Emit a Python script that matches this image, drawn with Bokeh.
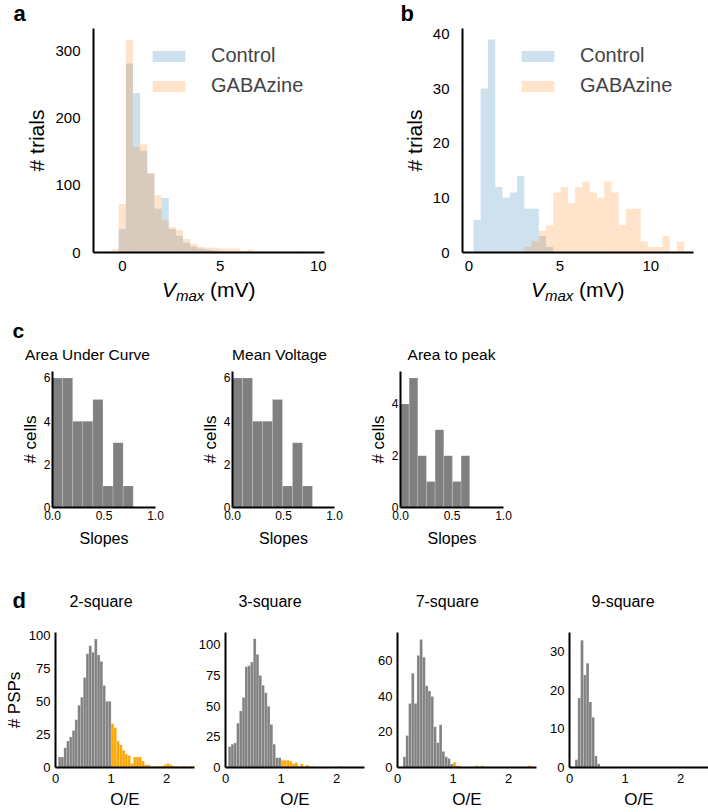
from bokeh.plotting import figure
from bokeh.models import (Range1d, FixedTicker, Label, Legend, LegendItem,
                          NumeralTickFormatter, ColumnDataSource)
from bokeh.layouts import row, column
from bokeh.embed import file_html
from bokeh.resources import INLINE

FONT = "Liberation Sans"

# ---------------- data ----------------
# panel a (V_max histograms, shared bins)
a_bin_start = -0.55
a_bin_width = 0.365
a_control = [0, 35, 281, 237, 151, 117, 65, 81, 35, 25, 15, 9, 6, 4, 3, 2, 1, 1, 1, 0, 0, 1, 0, 0, 0, 0, 0, 0]
a_gabazine = [5, 72, 316, 157, 161, 118, 85, 48, 38, 34, 20, 13, 8, 7, 7, 6, 6, 6, 2, 4, 2, 1, 1, 1, 0, 1, 1, 0]

# panel b
b_bin_start = 0.24
b_bin_width = 0.4
b_control = [6, 30, 39, 12, 10, 11, 14, 8, 8, 3, 1]
b_gabazine = [0, 0, 0, 0, 0, 0, 0, 1, 2, 4, 5, 11, 12, 9, 12, 13, 11, 10, 13, 11, 5, 8, 8, 2, 1, 1, 3, 0, 2]

legend_labels = ["Control", "GABAzine"]

# panel c (slopes)
c_titles = ["Area Under Curve", "Mean Voltage", "Area to peak"]
c_bin_widths = [0.098, 0.098, 0.084]
c_auc = [6, 6, 4, 4, 5, 1, 3, 1]
c_mean = [6, 6, 4, 4, 5, 1, 3, 1]
c_peak = [4, 5, 2, 1, 3, 2, 1, 2]

# panel d (O/E), bins of 0.05 from 0; gray below 1, orange from 1
d_titles = ["2-square", "3-square", "7-square", "9-square"]
d_bin_width = 0.05
d_gray_2 = [0, 8, 8, 15, 20, 23, 28, 36, 47, 53, 68, 86, 92, 87, 97, 85, 80, 62, 50, 50]
d_orange_2 = [33, 30, 20, 17, 13, 10, 9, 3, 8, 8, 8, 5, 2, 2, 1, 1, 1, 1, 1, 2, 3, 2, 1, 1, 0, 1, 1, 0, 1, 1]
d_gray_3 = [0, 17, 19, 20, 36, 46, 57, 82, 83, 86, 105, 92, 75, 67, 61, 50, 35, 19, 8, 8]
d_orange_3 = [6, 6, 6, 5, 3, 4, 1, 3, 1, 2, 1, 1, 0, 0, 0, 0, 0, 0, 0, 0, 0, 1, 0, 0, 0, 0, 0, 0, 0, 0]
d_gray_7 = [0, 0, 6, 18, 36, 53, 36, 63, 72, 62, 46, 43, 40, 23, 14, 24, 9, 6, 5, 2]
d_orange_7 = [3, 1, 1, 0, 0, 0, 0, 0, 1, 0, 1, 0, 0, 0, 0, 0, 0, 0, 0, 0, 0, 0, 0, 0, 0, 0, 0, 1, 0, 0]
d_gray_9 = [0, 0, 2, 18, 33, 24, 27, 17, 13, 3, 1, 0, 0, 0, 0, 0, 0, 0, 0, 0]
d_orange_9 = [0, 0, 0, 0, 0, 0, 0, 0, 0, 0, 0, 0, 0, 0, 0, 0, 0, 0, 0, 0, 0, 0, 0, 0, 0, 0, 0, 0, 0, 0]

BLUE = "#1f77b4"
ORANGE_T = "#ff7f0e"
GRAY = "#808080"
ORANGE = "#ffa500"


def make_panel(canvas, frame, xd, yd, xticks, yticks):
    """canvas = (left, top, width, height) in page px; frame = (left, top, right, bottom)
    page px of the data area spanning xd x yd. The whole canvas is the plot frame so
    that texts placed outside the data area are not clipped; axes sit at the data origin."""
    cx0, cy0, cw, ch = canvas
    fx0, fy0, fx1, fy1 = frame
    sx = (fx1 - fx0) / (xd[1] - xd[0])
    sy = (fy1 - fy0) / (yd[1] - yd[0])
    xr = (xd[0] - (fx0 - cx0) / sx, xd[1] + (cx0 + cw - fx1) / sx)
    yr = (yd[0] - (cy0 + ch - fy1) / sy, yd[1] + (fy0 - cy0) / sy)
    p = figure(width=cw, height=ch, min_border=0, min_border_left=0, min_border_right=0,
               min_border_top=0, min_border_bottom=0,
               x_range=Range1d(*xr), y_range=Range1d(*yr),
               output_backend="svg", toolbar_location=None, tools="")
    p.title.visible = False
    p.xgrid.visible = False
    p.ygrid.visible = False
    p.outline_line_color = None
    p.background_fill_color = "white"
    p.border_fill_color = "white"
    p.xaxis.ticker = FixedTicker(ticks=xticks)
    p.yaxis.ticker = FixedTicker(ticks=yticks)
    p.xaxis.fixed_location = yd[0]
    p.xaxis.bounds = xd
    p.yaxis.fixed_location = xd[0]
    p.yaxis.bounds = yd
    for ax in (p.xaxis[0], p.yaxis[0]):
        ax.axis_line_width = 2
        ax.axis_line_color = "black"
        ax.major_tick_line_color = None
        ax.minor_tick_line_color = None
        ax.major_tick_out = 0
        ax.major_tick_in = 0
        ax.minor_tick_out = 0
        ax.minor_tick_in = 0
        ax.major_label_text_font = FONT
        ax.major_label_text_color = "black"
        ax.axis_label_text_font = FONT
        ax.axis_label_text_font_style = "normal"
        ax.axis_label_text_color = "black"
    return p


def hist(p, start, width, counts, color, alpha=1.0, lines=True):
    left, right, top = [], [], []
    for i, c in enumerate(counts):
        if c > 0:
            left.append(start + width * i)
            right.append(start + width * (i + 1))
            top.append(c)
    src = ColumnDataSource(dict(left=left, right=right, top=top, bottom=[0] * len(top)))
    if lines:
        return p.quad(left="left", right="right", top="top", bottom="bottom", source=src,
                      fill_color=color, fill_alpha=alpha, line_color="white",
                      line_alpha=0.3, line_width=0.6)
    return p.quad(left="left", right="right", top="top", bottom="bottom", source=src,
                  fill_color=color, fill_alpha=alpha, line_color=None)


def label(p, canvas, text, px, py, size, style="normal", align="left", font=FONT):
    """place text with its baseline at page y = py (empirical baseline correction)."""
    cx0, cy0, cw, ch = canvas
    fs = float(size.replace("px", ""))
    p.add_layout(Label(x=px - cx0, y=cy0 + ch - py + 0.33 * fs, x_units="screen", y_units="screen",
                       text=text, text_font=font, text_font_size=size,
                       text_font_style=style, text_align=align,
                       text_baseline="alphabetic", text_color="black"))


# ---------------- row 1: panels a and b ----------------
ROW1_H = 305


def vmax_panel(canvas, frame, xd, yd, yticks, ctrl, gaba, start, width, letter, letter_x):
    p = make_panel(canvas, frame, xd, yd, [0, 5, 10], yticks)
    p.xaxis.major_label_text_font_size = "15px"
    p.yaxis.major_label_text_font_size = "15px"
    p.xaxis.major_label_standoff = 8
    p.yaxis.major_label_standoff = 13
    p.yaxis.axis_label = "# trials"
    p.yaxis.axis_label_text_font_size = "21px"
    p.yaxis.axis_label_standoff = 4
    rc = hist(p, start, width, ctrl, BLUE, 0.22, lines=False)
    rg = hist(p, start, width, gaba, ORANGE_T, 0.22, lines=False)
    cx0, cy0, cw, ch = canvas
    leg = Legend(items=[LegendItem(label=legend_labels[0], renderers=[rc]),
                        LegendItem(label=legend_labels[1], renderers=[rg])],
                 location=(frame[0] + 55 - cx0, cy0 + ch - 97))
    leg.glyph_width = 41
    leg.glyph_height = 14
    leg.label_standoff = 22
    leg.spacing = 7
    leg.padding = 0
    leg.margin = 0
    leg.border_line_color = None
    leg.background_fill_alpha = 0
    leg.label_text_font = FONT
    leg.label_text_font_size = "20px"
    p.add_layout(leg)
    fx0, fx1 = frame[0], frame[2]
    label(p, canvas, letter, letter_x, 20, "22px", style="bold")
    x0 = (fx0 + fx1) / 2 - 47
    label(p, canvas, "V", x0, 296, "21px", style="italic")
    label(p, canvas, "max", x0 + 14, 300, "15px", style="italic")
    label(p, canvas, "(mV)", x0 + 48, 296, "21px")
    return p


fa = vmax_panel((0, 0, 370, ROW1_H), (93, 28, 324, 252), (-1.47, 10.32), (0, 333),
                [0, 100, 200, 300], a_control, a_gabazine, a_bin_start, a_bin_width, "a", 13)
fb = vmax_panel((370, 0, 338, ROW1_H), (462, 28, 693, 252), (-0.36, 12.35), (0, 41),
                [0, 10, 20, 30, 40], b_control, b_gabazine, b_bin_start, b_bin_width, "b", 400)

# ---------------- row 2: panel c ----------------
ROW2_Y, ROW2_H = 305, 250
c_counts = [c_auc, c_mean, c_peak]
c_specs = [  # canvas x, canvas w, frame left, frame right, ymax, yticks, title center
    (0, 190, 52, 155, 6.3, [0, 2, 4, 6], 87),
    (190, 170, 232, 334, 6.3, [0, 2, 4, 6], 279),
    (360, 348, 400, 503, 5.25, [0, 2, 4], 451),
]
c_figs = []
for k, (cx, cw, fl, fr, ymax, yt, tcx) in enumerate(c_specs):
    canvas = (cx, ROW2_Y, cw, ROW2_H)
    p = make_panel(canvas, (fl, 371, fr, 507), (0, 1.0), (0, ymax), [0, 0.5, 1.0], yt)
    p.xaxis.formatter = NumeralTickFormatter(format="0.0")
    p.xaxis.major_label_text_font_size = "12px"
    p.yaxis.major_label_text_font_size = "12px"
    p.xaxis.major_label_standoff = 3
    p.yaxis.major_label_standoff = 2
    p.xaxis.axis_label = "Slopes"
    p.xaxis.axis_label_text_font_size = "16px"
    p.xaxis.axis_label_standoff = 7
    p.yaxis.axis_label = "# cells"
    p.yaxis.axis_label_text_font_size = "17px"
    p.yaxis.axis_label_standoff = 1
    hist(p, 0, c_bin_widths[k], c_counts[k], GRAY)
    label(p, canvas, c_titles[k], tcx, 359, "15.5px", align="center")
    if k == 0:
        label(p, canvas, "c", 12, 337, "21px", style="bold")
    c_figs.append(p)

# ---------------- row 3: panel d ----------------
ROW3_Y, ROW3_H = 555, 255
d_gray = [d_gray_2, d_gray_3, d_gray_7, d_gray_9]
d_orange = [d_orange_2, d_orange_3, d_orange_7, d_orange_9]
d_specs = [  # canvas x, canvas w, frame left, ymax, yticks, title center
    (0, 195, 55, 102, [0, 25, 50, 75, 100], 100.5),
    (195, 170, 225, 110, [0, 25, 50, 75, 100], 269.5),
    (365, 172, 397, 76, [0, 20, 40, 60], 446.7),
    (537, 171, 569, 35, [0, 10, 20, 30], 622.5),
]
d_figs = []
for k, (cx, cw, fl, ymax, yt, tcx) in enumerate(d_specs):
    canvas = (cx, ROW3_Y, cw, ROW3_H)
    p = make_panel(canvas, (fl, 632, fl + 139, 767), (0, 2.5), (0, ymax), [0, 1, 2], yt)
    p.xaxis.major_label_text_font_size = "13px"
    p.yaxis.major_label_text_font_size = "13px"
    p.xaxis.major_label_standoff = 6
    p.yaxis.major_label_standoff = 5
    p.xaxis.axis_label = "O/E"
    p.xaxis.axis_label_text_font_size = "17px"
    p.xaxis.axis_label_standoff = 4
    if k == 0:
        p.yaxis.axis_label = "# PSPs"
        p.yaxis.axis_label_text_font_size = "17px"
        p.yaxis.axis_label_standoff = 2
    hist(p, 0, d_bin_width, d_gray[k], GRAY)
    hist(p, 1.0, d_bin_width, d_orange[k], ORANGE)
    label(p, canvas, d_titles[k], tcx, 606, "16px", align="center")
    if k == 0:
        label(p, canvas, "d", 12, 607, "22px", style="bold")
    d_figs.append(p)

layout = column(row(fa, fb), row(*c_figs), row(*d_figs))

open("out.html", "w").write(file_html(layout, INLINE, title="Figure"))
